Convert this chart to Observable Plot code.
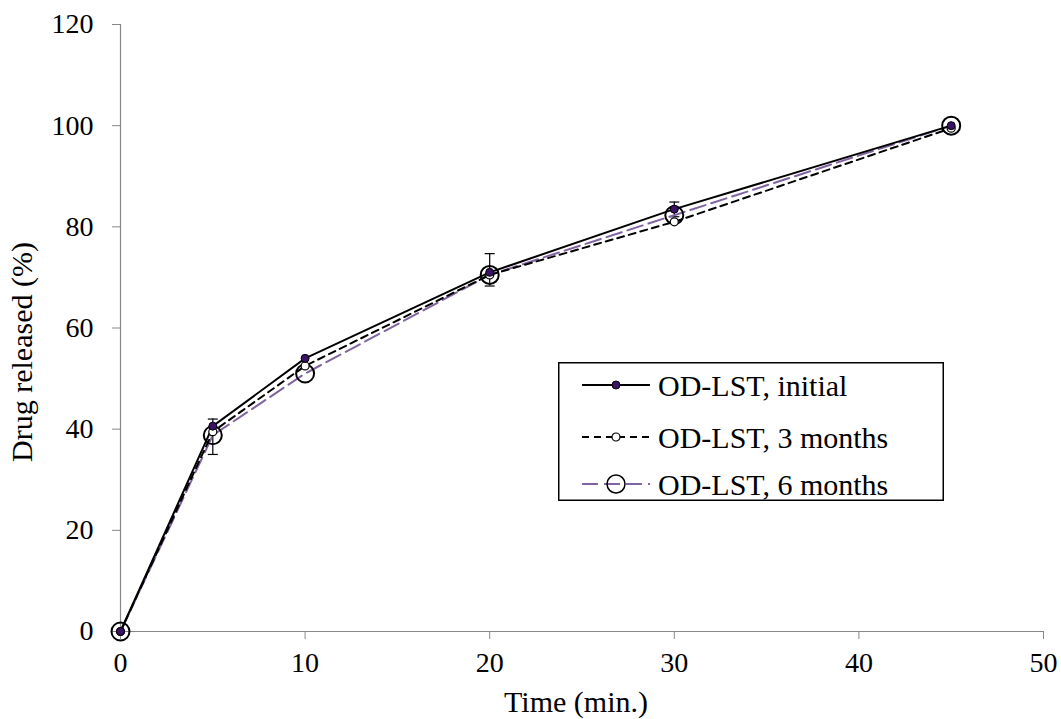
<!DOCTYPE html>
<html>
<head>
<meta charset="utf-8">
<script src="https://cdn.jsdelivr.net/npm/d3@7"></script>
<script src="https://cdn.jsdelivr.net/npm/@observablehq/plot@0.6"></script>
<style>
  html, body { margin: 0; padding: 0; background: #fff; }
  #wrap { position: relative; width: 1061px; height: 719px; font-family: Liberation Serif, DejaVu Serif, serif; }
  #legend { position: absolute; left: 556px; top: 360px; overflow: visible; }
</style>
</head>
<body>
<div id="wrap"></div>
<script>
// ---- data ----
const times = [0, 5, 10, 20, 30, 45];
const initial = [0, 40.6, 54.0, 71.0, 83.5, 100.0];
const months3 = [0, 39.5, 52.5, 70.5, 81.0, 99.5];
const months6 = [0, 38.8, 51.0, 70.5, 82.3, 100.0];
const errTimes = [5, 20, 30];
const errLow = [35.0, 68.3, 82.0];
const errHigh = [42.0, 74.7, 84.9];
const xTicks = [0, 10, 20, 30, 40, 50];
const yTicks = [0, 20, 40, 60, 80, 100, 120];
const seriesNames = ["OD-LST, initial", "OD-LST, 3 months", "OD-LST, 6 months"];
const xLabel = "Time (min.)";
const yLabel = "Drug released (%)";

const purple = "#8064A2";
const serif = "Liberation Serif, DejaVu Serif, serif";
const rows = (vals) => times.map((t, i) => ({t, v: vals[i]}));
const dInit = rows(initial), d3m = rows(months3), d6m = rows(months6);
const errs = errTimes.map((t, i) => ({t, lo: errLow[i], hi: errHigh[i]}));

const cap = { draw(ctx, size) { ctx.moveTo(-5, 0); ctx.lineTo(5, 0); } };

const chart = Plot.plot({
  width: 1061,
  height: 719,
  marginLeft: 120,
  marginRight: 18,
  marginTop: 24,
  marginBottom: 88,
  style: { fontFamily: serif, fontSize: "28px", color: "#000", background: "#fff" },
  x: { domain: [0, 50] },
  y: { domain: [0, 120] },
  marks: [
    Plot.axisX({ ticks: xTicks, tickSize: 8, tickPadding: 13, stroke: "#888", fontSize: 28, label: null }),
    Plot.axisY({ ticks: yTicks, tickSize: 8, tickPadding: 19, stroke: "#888", fontSize: 28, label: null }),
    Plot.text([xLabel], { text: d => d, frameAnchor: "bottom", dx: -6, dy: 71, lineAnchor: "middle", fontSize: 30, fill: "#000" }),
    Plot.text([yLabel], { text: d => d, frameAnchor: "left", rotate: -90, dx: -98, dy: 24, lineAnchor: "middle", textAnchor: "middle", fontSize: 30, fill: "#000" }),
    Plot.ruleY([0], { stroke: "#888", strokeWidth: 1.2 }),
    Plot.ruleX([0], { stroke: "#888", strokeWidth: 1.2 }),
    // error bars
    Plot.ruleX(errs, { x: "t", y1: "lo", y2: "hi", stroke: "#000", strokeWidth: 1.2 }),
    Plot.dot(errs, { x: "t", y: "lo", symbol: cap, stroke: "#000", strokeWidth: 1.2 }),
    Plot.dot(errs, { x: "t", y: "hi", symbol: cap, stroke: "#000", strokeWidth: 1.2 }),
    // lines
    Plot.line(d6m, { x: "t", y: "v", stroke: purple, strokeWidth: 2, strokeDasharray: "16,6" }),
    Plot.line(d3m, { x: "t", y: "v", stroke: "#000", strokeWidth: 2, strokeDasharray: "7,5" }),
    Plot.line(dInit, { x: "t", y: "v", stroke: "#000", strokeWidth: 2 }),
    // markers
    Plot.dot(d6m, { x: "t", y: "v", r: 9, fill: "none", stroke: "#000", strokeWidth: 2 }),
    Plot.dot(d3m, { x: "t", y: "v", r: 4, fill: "#fff", stroke: "#000", strokeWidth: 1.2 }),
    Plot.dot(dInit, { x: "t", y: "v", r: 4, fill: "#3a1266", stroke: "#000", strokeWidth: 1 })
  ]
});
document.getElementById("wrap").appendChild(chart);

// ---- legend ----
const W = 386, H = 139, P = 2;
const leg = d3.select("#wrap").append("svg")
  .attr("id", "legend").attr("width", W + 2 * P).attr("height", H + 2 * P);
const body = leg.append("g").attr("transform", `translate(${P},${P})`);
body.append("rect").attr("x", 0.75).attr("y", 0.75).attr("width", W - 1.5).attr("height", H - 1.5)
  .attr("fill", "#fff").attr("stroke", "#000").attr("stroke-width", 1.5);
const rowY = [23, 75, 122];
const styles = [
  { stroke: "#000", dash: null, r: 4, fill: "#3a1266", mstroke: "#000", msw: 1 },
  { stroke: "#000", dash: "7,5", r: 4, fill: "#fff", mstroke: "#000", msw: 1.2 },
  { stroke: purple, dash: "16,6", r: 9, fill: "none", mstroke: "#000", msw: 1.5 }
];
seriesNames.forEach((name, i) => {
  const g = body.append("g").attr("transform", `translate(0,${rowY[i]})`);
  const s = styles[i];
  const ln = g.append("line").attr("x1", 24).attr("x2", 92).attr("y1", 0).attr("y2", 0)
    .attr("stroke", s.stroke).attr("stroke-width", 2);
  if (s.dash) ln.attr("stroke-dasharray", s.dash);
  g.append("circle").attr("cx", 58).attr("cy", 0).attr("r", s.r)
    .attr("fill", s.fill).attr("stroke", s.mstroke).attr("stroke-width", s.msw);
  g.append("text").attr("x", 100).attr("y", 0).attr("dy", "0.35em")
    .attr("font-family", serif).attr("font-size", 30)
    .attr("fill", "#000").text(name);
});
</script>
</body>
</html>
